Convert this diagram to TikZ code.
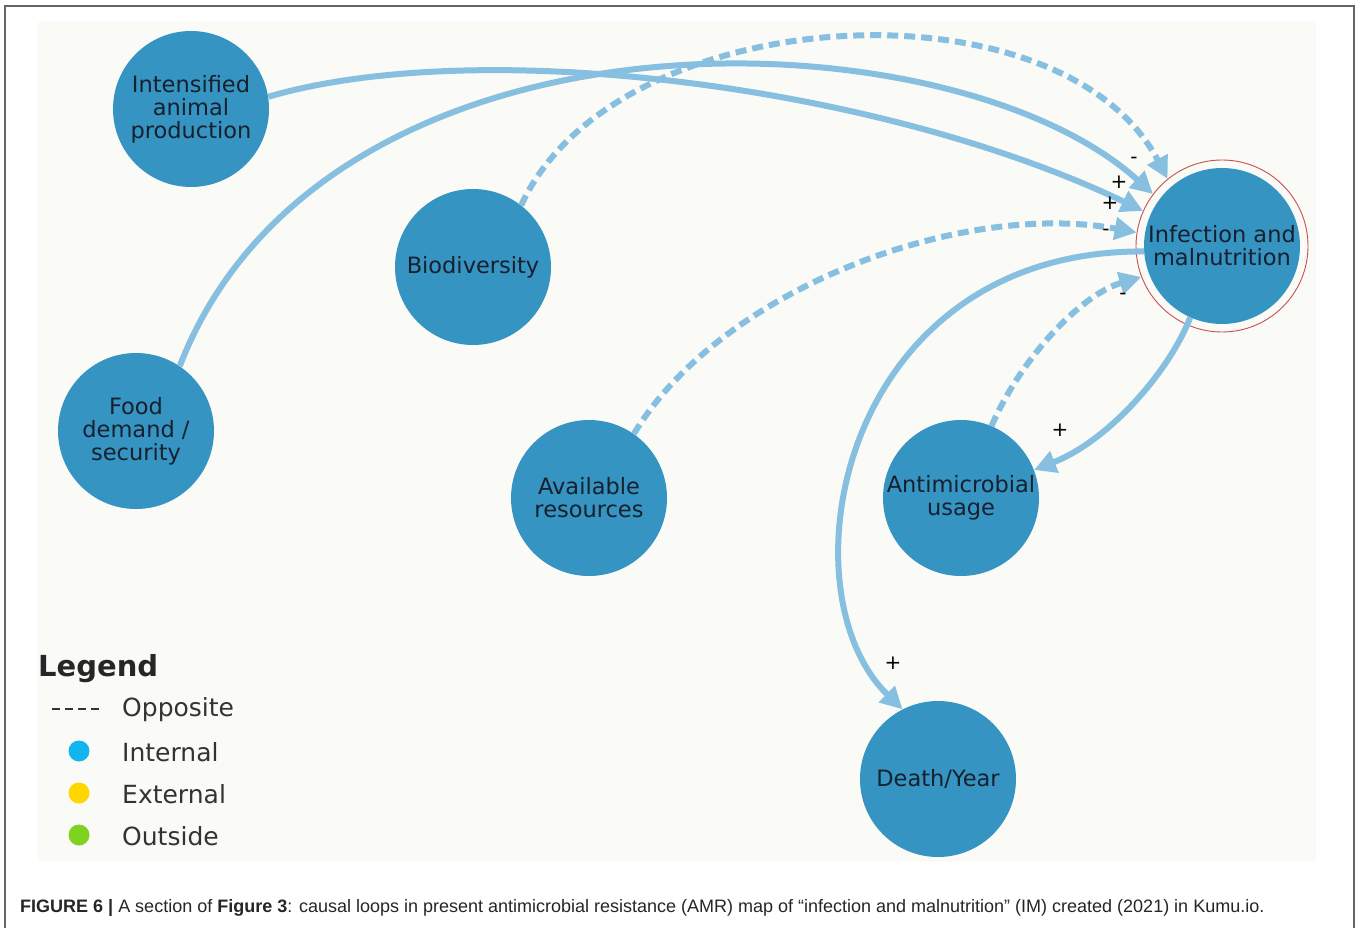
\documentclass[tikz,border=0pt]{standalone}
\usepackage{fontspec}
\setmainfont{DejaVu Sans}
\newfontfamily\capfont{Liberation Sans}
\usetikzlibrary{arrows.meta}
\definecolor{nodeblue}{HTML}{3594C1}
\definecolor{linkblue}{HTML}{86BFDF}
\definecolor{panelbg}{HTML}{FAFAF6}
\definecolor{nodetext}{HTML}{17202E}
\definecolor{legendtext}{HTML}{333333}
\definecolor{ringred}{HTML}{C85050}
\definecolor{dotinternal}{HTML}{12B5F0}
\definecolor{dotexternal}{HTML}{FFD700}
\definecolor{dotoutside}{HTML}{7ED321}
\tikzset{
  factor/.style={circle, fill=nodeblue, minimum size=156pt, inner sep=0pt,
    text=nodetext, align=center, font=\fontsize{22.5}{23}\selectfont},
  link/.style={draw=linkblue, line width=6pt,
    -{Triangle[length=22pt,width=22pt,fill=linkblue]}},
  opposite/.style={link, dash pattern=on 11pt off 6pt},
  polarity/.style={font=\fontsize{20}{20}\selectfont, text=black, inner sep=0pt},
  legendlabel/.style={anchor=west, text=legendtext, inner sep=0pt,
    font=\fontsize{25}{25}\selectfont},
  legenddot/.style={circle, minimum size=21pt, inner sep=0pt}
}
\begin{document}
\begin{tikzpicture}[x=1pt,y=-1pt]
\useasboundingbox (0,0) rectangle (1360,928);
% frame and panel
\fill[white] (0,0) rectangle (1360,928);
\draw[color=black!60, line width=1.5pt] (5,6) rectangle (1354,930);
\fill[panelbg] (38,22) rectangle (1316,862);

% factors
\node[factor] (iap) at (191,109) {Intensified\\animal\\production};
\node[factor] (bio) at (473,267) {Biodiversity};
\node[factor] (fds) at (136,431) {Food\\demand /\\security};
\node[factor] (ar)  at (589,498) {Available\\resources};
\node[factor] (amu) at (961,498) {Antimicrobial\\usage};
\node[factor] (dy)  at (938,779) {Death/Year};
\node[factor] (im)  at (1222,246) {Infection and\\malnutrition};
\node[circle, draw=ringred, line width=0.9pt, minimum size=172pt, inner sep=0pt] (imring) at (1222,246) {};

% links into infection and malnutrition
\draw[link] (iap.9) .. controls (480,35) and (880,85) .. (imring.156);
\draw[link] (fds.56) .. controls (325,-10) and (950,10) .. (imring.143);
\draw[opposite] (bio.52) .. controls (615,0) and (1060,-25) .. (imring.129);
\draw[opposite] (ar.55) .. controls (720,290) and (960,200) .. (imring.171);
\draw[opposite] (amu.67) .. controls (1020,360) and (1080,295) .. (imring.201);
% links out of infection and malnutrition
\draw[link] (im.184) .. controls (840,250) and (780,590) .. (dy.117);
\draw[link] (im.246) .. controls (1170,370) and (1110,440) .. (amu.21);

% polarities
\node[polarity] (p1) at (1134,160) {-};
\node[polarity] (p2) at (1119,182) {+};
\node[polarity] (p3) at (1110,203) {+};
\node[polarity] (p4) at (1106,232) {-};
\node[polarity] (p5) at (1123,296) {-};
\node[polarity] (p6) at (1060,430) {+};
\node[polarity] (p7) at (893,663) {+};

% legend
\node[anchor=west, inner sep=0pt, text=black!85, font=\bfseries\fontsize{29}{29}\selectfont] (lgtitle) at (38,669) {Legend};
\coordinate (dashL) at (52,709);
\coordinate (dashR) at (100,709);
\draw[color=legendtext, line width=2.5pt, dash pattern=on 8pt off 5pt] (dashL) -- (dashR);
\node[legendlabel] (lg1) at (122,710) {Opposite};
\node[legenddot, fill=dotinternal] (d2) at (79,751) {};
\node[legendlabel] (lg2) at (122,752) {Internal};
\node[legenddot, fill=dotexternal] (d3) at (79,793) {};
\node[legendlabel] (lg3) at (122,794) {External};
\node[legenddot, fill=dotoutside] (d4) at (79,835) {};
\node[legendlabel] (lg4) at (122,836) {Outside};

% caption
\node[anchor=west, inner sep=0pt, text=black!85, font=\capfont\fontsize{18}{18}\selectfont] (caption) at (20,908)
  {\textbf{FIGURE 6 |} A section of \textbf{Figure 3}: causal loops in present antimicrobial resistance (AMR) map of “infection and malnutrition” (IM) created (2021) in Kumu.io.};
\end{tikzpicture}
\end{document}
